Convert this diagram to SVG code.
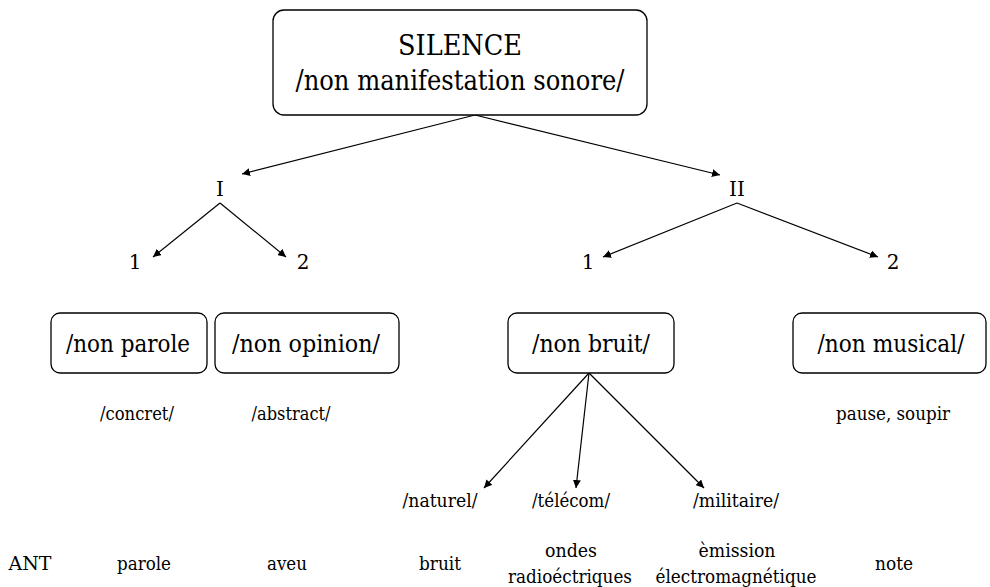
<svg xmlns="http://www.w3.org/2000/svg" width="990" height="587" viewBox="0 0 990 587">
<defs>
<marker id="ah" viewBox="0 0 10 10" refX="10" refY="5" markerWidth="8" markerHeight="8" markerUnits="userSpaceOnUse" orient="auto">
<path d="M0,0 L10,5 L0,10 z" fill="#000"/>
</marker>
<style>
.box{fill:#fff;stroke:#000;stroke-width:1.3}
text{fill:#000;text-anchor:middle}
.big{font-size:27.5px}
.mid{font-size:24.5px}
.sm{font-size:19px}
.num{font-size:20px}
.c{stroke:#000;stroke-width:1.2;fill:none;marker-end:url(#ah)}
</style>
</defs>
<rect width="990" height="587" fill="#fff"/>
<g id="connectors">
<line class="c" x1="475" y1="115" x2="242" y2="174"/>
<line class="c" x1="475" y1="115" x2="720" y2="175"/>
<line class="c" x1="220" y1="203" x2="153" y2="257"/>
<line class="c" x1="220" y1="203" x2="286" y2="257"/>
<line class="c" x1="737" y1="203" x2="603" y2="257"/>
<line class="c" x1="737" y1="203" x2="878" y2="257"/>
<line class="c" x1="589" y1="373" x2="484" y2="488"/>
<line class="c" x1="589" y1="373" x2="576" y2="488"/>
<line class="c" x1="589" y1="373" x2="704" y2="488"/>
</g>
<g font-family="DejaVu Serif">
<g id="silence">
<rect class="box" x="273" y="10" width="374" height="105" rx="11"/>
<text class="big" x="460" y="55" textLength="124" lengthAdjust="spacingAndGlyphs">SILENCE</text>
<text class="big" x="460" y="90" textLength="329" lengthAdjust="spacingAndGlyphs">/non manifestation sonore/</text>
</g>
<g id="I"><text class="num" x="220" y="196">I</text></g>
<g id="II"><text class="num" x="737" y="196">II</text></g>
<g id="I-1"><text class="num" x="135" y="269">1</text></g>
<g id="I-2"><text class="num" x="303" y="269">2</text></g>
<g id="II-1"><text class="num" x="588" y="269">1</text></g>
<g id="II-2"><text class="num" x="893" y="269">2</text></g>
<g id="nonparole">
<rect class="box" x="51" y="313" width="156" height="60" rx="9"/>
<text class="mid" x="128" y="352" textLength="124" lengthAdjust="spacingAndGlyphs">/non parole</text>
</g>
<g id="nonopinion">
<rect class="box" x="215" y="313" width="184" height="60" rx="9"/>
<text class="mid" x="306" y="352" textLength="148" lengthAdjust="spacingAndGlyphs">/non opinion/</text>
</g>
<g id="nonbruit">
<rect class="box" x="508" y="313" width="166" height="60" rx="9"/>
<text class="mid" x="591" y="352" textLength="118" lengthAdjust="spacingAndGlyphs">/non bruit/</text>
</g>
<g id="nonmusical">
<rect class="box" x="793" y="313" width="193" height="60" rx="9"/>
<text class="mid" x="891" y="352" textLength="147" lengthAdjust="spacingAndGlyphs">/non musical/</text>
</g>
<g id="concret"><text class="sm" x="137" y="420" textLength="74" lengthAdjust="spacingAndGlyphs">/concret/</text></g>
<g id="abstract"><text class="sm" x="291" y="420" textLength="79" lengthAdjust="spacingAndGlyphs">/abstract/</text></g>
<g id="pause"><text class="sm" x="893" y="420" textLength="114" lengthAdjust="spacingAndGlyphs">pause, soupir</text></g>
<g id="naturel"><text class="sm" x="440" y="507" textLength="75" lengthAdjust="spacingAndGlyphs">/naturel/</text></g>
<g id="telecom"><text class="sm" x="571" y="507" textLength="78" lengthAdjust="spacingAndGlyphs">/télécom/</text></g>
<g id="militaire"><text class="sm" x="736" y="507" textLength="86" lengthAdjust="spacingAndGlyphs">/militaire/</text></g>
<g id="ant"><text class="sm" x="30" y="570" textLength="43" lengthAdjust="spacingAndGlyphs">ANT</text></g>
<g id="parole"><text class="sm" x="144" y="570" textLength="54" lengthAdjust="spacingAndGlyphs">parole</text></g>
<g id="aveu"><text class="sm" x="287" y="570" textLength="40" lengthAdjust="spacingAndGlyphs">aveu</text></g>
<g id="bruit"><text class="sm" x="440" y="570" textLength="42" lengthAdjust="spacingAndGlyphs">bruit</text></g>
<g id="ondes"><text class="sm" x="571" y="557" textLength="52" lengthAdjust="spacingAndGlyphs">ondes</text><text class="sm" x="570" y="583" textLength="124" lengthAdjust="spacingAndGlyphs">radioéctriques</text></g>
<g id="emission"><text class="sm" x="737" y="557" textLength="77" lengthAdjust="spacingAndGlyphs">èmission</text><text class="sm" x="736" y="583" textLength="161" lengthAdjust="spacingAndGlyphs">électromagnétique</text></g>
<g id="note"><text class="sm" x="894" y="570" textLength="38" lengthAdjust="spacingAndGlyphs">note</text></g>
</g>
</svg>
